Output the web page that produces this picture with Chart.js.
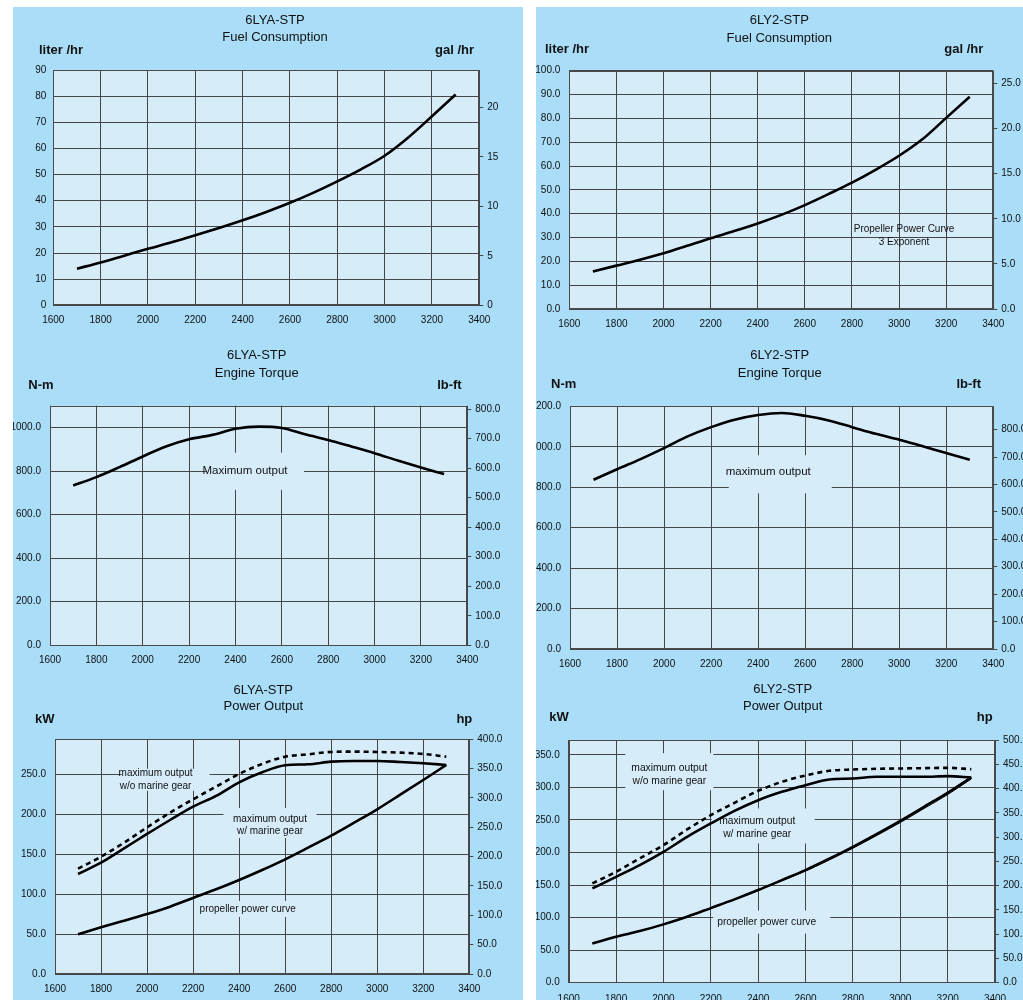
<!DOCTYPE html>
<html>
<head>
<meta charset="utf-8">
<script src="https://cdn.jsdelivr.net/npm/chart.js@4.4.1/dist/chart.umd.min.js"></script>
<style>
  html, body { margin: 0; padding: 0; background: #fff; width: 1023px; height: 1000px; overflow: hidden; }
  .panel { position: absolute; background: #a9ddf8; }
  canvas { position: absolute; display: block; }
</style>
</head>
<body>
<div class="panel" style="left:13px;top:7px;width:510px;height:993px"></div>
<div class="panel" style="left:536px;top:7px;width:487px;height:993px"></div>

<canvas id="fuelA" width="510" height="328" style="left:13px;top:7px"></canvas>
<canvas id="fuelB" width="487" height="328" style="left:536px;top:7px"></canvas>
<canvas id="torqueA" width="510" height="335" style="left:13px;top:335px"></canvas>
<canvas id="torqueB" width="487" height="335" style="left:536px;top:335px"></canvas>
<canvas id="powerA" width="510" height="330" style="left:13px;top:670px"></canvas>
<canvas id="powerB" width="487" height="330" style="left:536px;top:670px"></canvas>

<script>
// engine speed (rpm) of every curve point
const rpm = [1700, 1800, 1900, 2000, 2100, 2200, 2300, 2400, 2500, 2600, 2700, 2800, 2900, 3000, 3100, 3200, 3300];
const rpmTicks = [1600, 1800, 2000, 2200, 2400, 2600, 2800, 3000, 3200, 3400];

// fuel consumption, liter/hr
const fuel6LYA = [14, 16.4, 19, 21.6, 24.1, 26.8, 29.6, 32.5, 35.7, 39.2, 43.1, 47.4, 52, 57.2, 64.2, 72.3, 80.6];
const fuel6LY2 = [15.7, 18.2, 20.7, 23.4, 26.5, 29.7, 32.7, 35.9, 39.5, 43.6, 48.2, 53, 58.4, 64.3, 71.3, 80.2, 89.1];

// engine torque, N-m
const torque6LYA = [734, 772, 818, 867, 913, 946, 966, 994, 1004, 998, 969, 943, 913, 882, 848, 816, 786];
const torque6LY2 = [837, 889, 939, 993, 1051, 1097, 1134, 1157, 1167, 1153, 1130, 1097, 1064, 1035, 1002, 969, 936];

// power output, kW
const powerGear6LYA   = [125.2, 139.4, 157.3, 175.3, 192.8, 209.5, 222.9, 240, 252.5, 261.3, 262.5, 265.9, 266.7, 266.7, 265.4, 263.8, 261.7];
const powerNoGear6LYA = [131.9, 146.9, 164.4, 183.6, 202, 218.7, 234.6, 250.4, 263, 272.1, 275, 278, 278.4, 278, 277.1, 275.5, 272.1];
const propeller6LYA   = [49.7, 58.4, 66.8, 75.1, 84.3, 95.2, 106, 117.7, 130.2, 143.6, 158.2, 173.2, 189.5, 206.2, 224.5, 242.9, 261.7];

const powerGear6LY2   = [144.8, 162.7, 180.7, 201, 224, 244.6, 264, 280.4, 293.2, 303.5, 312.2, 313.7, 316.3, 316.3, 316.3, 317.3, 315.3];
const powerNoGear6LY2 = [152.5, 170.4, 190.9, 211.4, 235.4, 257.4, 276.4, 294.8, 308.6, 318.3, 325.5, 327.5, 328.6, 329.1, 329.6, 330.1, 328];
const propeller6LY2   = [60.4, 70.6, 79.3, 89.6, 101.3, 114.6, 128, 142.3, 157.6, 173, 190.4, 208.8, 228.3, 248.7, 270.2, 291.7, 315.3];
const propellerB6LY2  = [60.4, 70.6, 79.3, 89.6, 101.3, 114.6, 128, 142.3, 156.6, 171.6, 188.6, 206.6, 226, 246, 267.5, 289, 313];

// axis ticks
const fuelTicksA = [0, 10, 20, 30, 40, 50, 60, 70, 80, 90];
const galTicksA = [0, 5, 10, 15, 20];
const fuelTicksB = [0, 10, 20, 30, 40, 50, 60, 70, 80, 90, 100];
const galTicksB = [0, 5, 10, 15, 20, 25];
const nmTicksA = [0, 200, 400, 600, 800, 1000];
const nmTicksB = [0, 200, 400, 600, 800, 1000, 1200];
const lbftTicks = [0, 100, 200, 300, 400, 500, 600, 700, 800];
const kwTicksA = [0, 50, 100, 150, 200, 250];
const psTicksA = [0, 50, 100, 150, 200, 250, 300, 350, 400];
const kwTicksB = [0, 50, 100, 150, 200, 250, 300, 350];
const hpTicksB = [0, 50, 100, 150, 200, 250, 300, 350, 400, 450, 500];

const SANS = "'Liberation Sans', Arial, sans-serif";
const INK = '#111';
const GRID = '#464646';
const PLOT_BG = '#d6ecf9';

Chart.defaults.font.family = SANS;

function textPlugin(spec) {
  return {
    id: 'panelText',
    beforeDraw(chart) {
      const { ctx, chartArea: a } = chart;
      ctx.save();
      ctx.fillStyle = PLOT_BG;
      ctx.fillRect(a.left, a.top, a.right - a.left, a.bottom - a.top);
      ctx.restore();
    },
    beforeDatasetsDraw(chart) {
      const { ctx, scales } = chart;
      ctx.save();
      ctx.fillStyle = PLOT_BG;
      (spec.notes || []).forEach(n => {
        if (!n.box) return;
        const cx = scales.x.getPixelForValue(n.x) + (n.box.dx || 0);
        const cy = scales.y.getPixelForValue(n.y) + (n.box.dy || 0);
        ctx.fillRect(cx - n.box.w / 2, cy - n.box.h / 2, n.box.w, n.box.h);
      });
      ctx.restore();
    },
    afterDraw(chart) {
      const { ctx, chartArea: a, scales } = chart;
      ctx.save();
      ctx.strokeStyle = '#4a4a4a';
      ctx.lineWidth = 1;
      ctx.strokeRect(Math.round(a.left) + 0.5, Math.round(a.top) + 0.5,
        Math.round(a.right - a.left) - 1, Math.round(a.bottom - a.top) - 1);

      ctx.fillStyle = INK;
      ctx.textBaseline = 'middle';
      ctx.textAlign = 'center';
      ctx.font = '13px ' + SANS;
      ctx.fillText(spec.title[0], spec.titleX, spec.titleY[0]);
      ctx.fillText(spec.title[1], spec.titleX, spec.titleY[1]);

      ctx.font = 'bold 13px ' + SANS;
      ctx.textAlign = 'left';
      ctx.fillText(spec.units[0], spec.unitX[0], spec.unitY);
      ctx.textAlign = 'right';
      ctx.fillText(spec.units[1], spec.unitX[1], spec.unitY);

      ctx.textAlign = 'center';
      (spec.notes || []).forEach(n => {
        ctx.font = n.size + 'px ' + SANS;
        const cx = scales.x.getPixelForValue(n.x);
        const cy = scales.y.getPixelForValue(n.y);
        const top = cy - (n.lines.length - 1) * n.lh / 2;
        n.lines.forEach((t, i) => ctx.fillText(t, cx, top + i * n.lh));
      });
      ctx.restore();
    }
  };
}

function setTicks(list) {
  return scale => { scale.ticks = list.map(v => ({ value: v })); };
}

function buildChart(id, spec) {
  const canvas = document.getElementById(id);
  const W = canvas.width, H = canvas.height, area = spec.area;
  const tickFont = { family: SANS, size: 10 };
  return new Chart(canvas, {
    type: 'line',
    data: {
      datasets: spec.series.map(s => ({
        data: rpm.map((r, i) => ({ x: r, y: s.values[i] })),
        borderColor: '#000',
        borderWidth: s.width || 2.6,
        borderDash: s.dash || [],
        pointRadius: 0,
        fill: false,
        cubicInterpolationMode: 'monotone',
        yAxisID: 'y'
      }))
    },
    options: {
      responsive: false,
      animation: false,
      layout: { padding: { top: area.t, left: 0, right: 0, bottom: 0 } },
      plugins: {
        legend: { display: false },
        tooltip: { enabled: false },
        title: { display: false }
      },
      scales: {
        x: {
          type: 'linear',
          min: 1600,
          max: 3400,
          afterBuildTicks: setTicks(rpmTicks),
          afterFit: s => { s.height = H - area.b; },
          border: { display: false },
          grid: { color: GRID, lineWidth: 1, drawTicks: false },
          ticks: { font: tickFont, color: INK, padding: spec.xPad || 9, autoSkip: false, maxRotation: 0,
                   callback: v => String(v) }
        },
        y: {
          position: 'left',
          min: 0,
          max: spec.leftMax,
          afterBuildTicks: setTicks(spec.leftTicks),
          afterFit: s => { s.width = area.l; },
          border: { display: false },
          grid: { color: GRID, lineWidth: 1, drawTicks: false },
          ticks: { font: tickFont, color: INK, padding: spec.leftPad,
                   callback: v => v.toFixed(spec.leftDigits) }
        },
        y2: {
          position: 'right',
          min: 0,
          max: spec.rightMax,
          afterBuildTicks: setTicks(spec.rightTicks),
          afterFit: s => { s.width = W - area.r; },
          border: { display: false },
          grid: { color: GRID, lineWidth: 1, drawOnChartArea: false, drawTicks: true, tickLength: 4 },
          ticks: { font: tickFont, color: INK, padding: 4,
                   callback: v => v.toFixed(spec.rightDigits) }
        }
      }
    },
    plugins: [textPlugin(spec)]
  });
}

buildChart('fuelA', {
  area: { l: 40.3, t: 63, r: 466.3, b: 298.3 },
  title: ['6LYA-STP', 'Fuel Consumption'], titleX: 262, titleY: [13.7, 30.7],
  units: ['liter /hr', 'gal /hr'], unitX: [26, 461], unitY: 43,
  leftMax: 90, leftTicks: fuelTicksA, leftDigits: 0, leftPad: 7,
  rightMax: 90 / 3.785, rightTicks: galTicksA, rightDigits: 0,
  series: [{ values: fuel6LYA }]
});

buildChart('fuelB', {
  area: { l: 33.3, t: 63.7, r: 457.3, b: 302 },
  title: ['6LY2-STP', 'Fuel Consumption'], titleX: 243.3, titleY: [13.7, 31.3],
  units: ['liter /hr', 'gal /hr'], unitX: [9, 447.3], unitY: 42,
  leftMax: 100, leftTicks: fuelTicksB, leftDigits: 1, leftPad: 9,
  rightMax: 100 / 3.785, rightTicks: galTicksB, rightDigits: 1,
  series: [{ values: fuel6LY2 }],
  notes: [{ x: 3021, y: 30.8, lines: ['Propeller Power Curve', '3 Exponent'], size: 10, lh: 13.6 }]
});

buildChart('torqueA', {
  area: { l: 37, t: 70.7, r: 454.3, b: 310.3 },
  title: ['6LYA-STP', 'Engine Torque'], titleX: 243.7, titleY: [20, 38.3],
  units: ['N-m', 'lb-ft'], unitX: [15.3, 448.7], unitY: 50.7,
  leftMax: 1100, leftTicks: nmTicksA, leftDigits: 1, leftPad: 9,
  rightMax: 1100 / 1.3558, rightTicks: lbftTicks, rightDigits: 1,
  series: [{ values: torque6LYA }],
  notes: [{ x: 2441, y: 799, lines: ['Maximum output'], size: 11.5, lh: 13,
            box: { w: 98, h: 37, dx: 10, dy: 0 } }]
});

buildChart('torqueB', {
  area: { l: 34, t: 71.3, r: 457.3, b: 314 },
  title: ['6LY2-STP', 'Engine Torque'], titleX: 243.7, titleY: [20, 38.3],
  units: ['N-m', 'lb-ft'], unitX: [15, 445], unitY: 49.3,
  leftMax: 1200, leftTicks: nmTicksB, leftDigits: 1, leftPad: 9,
  rightMax: 1200 / 1.3558, rightTicks: lbftTicks, rightDigits: 1,
  series: [{ values: torque6LY2 }],
  notes: [{ x: 2443, y: 874, lines: ['maximum output'], size: 11.5, lh: 13,
            box: { w: 103, h: 38, dx: 12, dy: 2 } }]
});

buildChart('powerA', {
  area: { l: 42, t: 69, r: 456.3, b: 304 },
  title: ['6LYA-STP', 'Power Output'], titleX: 250.3, titleY: [20, 36.7],
  units: ['kW', 'hp'], unitX: [22, 459.3], unitY: 49,
  leftMax: 294.2, leftTicks: kwTicksA, leftDigits: 1, leftPad: 9,
  rightMax: 400, rightTicks: psTicksA, rightDigits: 1,
  series: [
    { values: powerNoGear6LYA, dash: [5, 4] },
    { values: powerGear6LYA },
    { values: propeller6LYA }
  ],
  notes: [
    { x: 2037, y: 243.1, lines: ['maximum output', 'w/o marine gear'], size: 10, lh: 12.3,
      box: { w: 88, h: 22, dx: 10, dy: 0 } },
    { x: 2534, y: 186.5, lines: ['maximum output', 'w/ marine gear'], size: 10, lh: 12.3,
      box: { w: 93, h: 30, dx: 0, dy: -2 } },
    { x: 2437, y: 81.4, lines: ['propeller power curve'], size: 10, lh: 12,
      box: { w: 85, h: 16, dx: 0, dy: 0 } }
  ]
});

buildChart('powerB', {
  area: { l: 32.7, t: 70, r: 459, b: 312.7 },
  title: ['6LY2-STP', 'Power Output'], titleX: 246.7, titleY: [19, 36.7],
  units: ['kW', 'hp'], unitX: [13.3, 456.7], unitY: 47.7,
  leftMax: 500 * 0.7457, leftTicks: kwTicksB, leftDigits: 1, leftPad: 9,
  rightMax: 500, rightTicks: hpTicksB, rightDigits: 1, xPad: 11,
  series: [
    { values: powerNoGear6LY2, dash: [5, 4] },
    { values: powerGear6LY2 },
    { values: propeller6LY2 },
    { values: propellerB6LY2, width: 1 }
  ],
  notes: [
    { x: 2025, y: 319.5, lines: ['maximum output', 'w/o marine gear'], size: 10.3, lh: 12.7,
      box: { w: 88, h: 37, dx: 0, dy: -3 } },
    { x: 2396, y: 237.7, lines: ['maximum output', 'w/ marine gear'], size: 10.3, lh: 12.7,
      box: { w: 103, h: 35, dx: 6, dy: -2 } },
    { x: 2436, y: 93.2, lines: ['propeller power curve'], size: 10.3, lh: 12,
      box: { w: 117, h: 23, dx: 5, dy: 0 } }
  ]
});
</script>
</body>
</html>
